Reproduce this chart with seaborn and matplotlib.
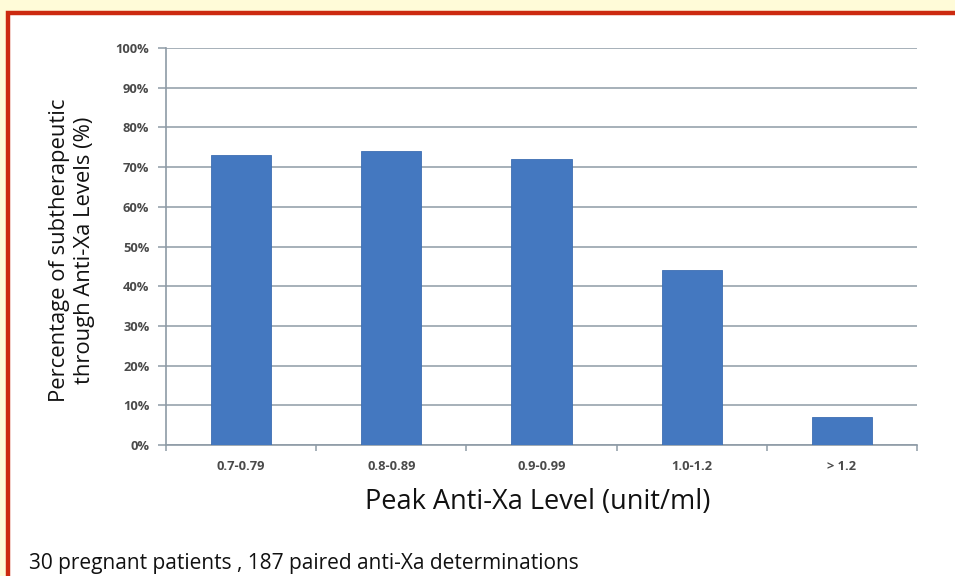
import matplotlib
matplotlib.use("Agg")
import matplotlib.pyplot as plt
import matplotlib.patches as mpatches
from matplotlib.ticker import FixedLocator, PercentFormatter
import seaborn as sns
import pandas as pd

# Peak anti-Xa level bins and share of subtherapeutic trough levels (%)
levels = ["0.7-0.79", "0.8-0.89", "0.9-0.99", "1.0-1.2", "> 1.2"]
subtherapeutic_pct = [73, 74, 72, 44, 7]
y_ticks = [0, 10, 20, 30, 40, 50, 60, 70, 80, 90, 100]

ylabel = "Percentage of subtherapeutic\nthrough Anti-Xa Levels (%)"
xlabel = "Peak Anti-Xa Level (unit/ml)"
footnote = "30 pregnant patients , 187 paired anti-Xa determinations"

sns.set_style("white")
plt.rcParams["font.family"] = ["Open Sans", "DejaVu Sans"]

df = pd.DataFrame({"level": levels, "pct": subtherapeutic_pct})

W, H = 955, 576
fig = plt.figure(figsize=(W / 100, H / 100), dpi=100)
fig.patch.set_facecolor("#FFFBD8")

# white panel with red frame (runs off the right and bottom edges)
frame = mpatches.Rectangle((8 / W, -0.05), 1.0, 1 - 13 / H + 0.05,
                           transform=fig.transFigure, facecolor="white",
                           edgecolor="#CC2A10", linewidth=3.2, zorder=-5)
fig.patches.append(frame)

ax = fig.add_axes([166 / W, 1 - 445 / H, (917 - 166) / W, (445 - 48) / H])
ax.set_zorder(2)
ax.set_facecolor("none")

sns.barplot(data=df, x="level", y="pct", ax=ax, color="#4478C0",
            width=0.4, saturation=1, edgecolor="#3D6EB2", linewidth=0.6,
            zorder=3)

ax.set_xlim(-0.5, len(levels) - 0.5)
ax.set_ylim(0, 100)
ax.yaxis.set_major_locator(FixedLocator(y_ticks))
ax.yaxis.set_major_formatter(PercentFormatter(decimals=0))
ax.grid(axis="y", color="#8E9BA6", linewidth=1.1, zorder=0)
ax.set_axisbelow(True)

for side in ["top", "right"]:
    ax.spines[side].set_visible(False)
for side in ["left", "bottom"]:
    ax.spines[side].set_color("#8E9BA6")
    ax.spines[side].set_linewidth(1.2)

ax.tick_params(axis="y", which="major", length=6, width=1.1, color="#8E9BA6",
               direction="out", left=True, labelsize=9.3, labelcolor="#4A4A4A",
               pad=6)
ax.tick_params(axis="x", which="major", length=0, labelsize=9.3,
               labelcolor="#4A4A4A", pad=11)
ax.xaxis.set_minor_locator(FixedLocator([i + 0.5 for i in range(-1, len(levels))]))
ax.tick_params(axis="x", which="minor", length=4, width=1.1, color="#8E9BA6",
               direction="out", bottom=True)
for lab in ax.get_yticklabels() + ax.get_xticklabels():
    lab.set_fontweight("bold")

ax.set_xlabel("")
ax.set_ylabel("")
fig.text(72 / W, 1 - 250 / H, ylabel, rotation=90, ha="center", va="center",
         fontsize=15.8, color="#111111", linespacing=1.2)
fig.text(538 / W, 1 - 502 / H, xlabel, ha="center", va="center",
         fontsize=19.5, color="#111111")
fig.text(29 / W, 1 - 563 / H, footnote, ha="left", va="center",
         fontsize=15, color="#111111")

fig.savefig("out.png", dpi=100, facecolor=fig.get_facecolor())
